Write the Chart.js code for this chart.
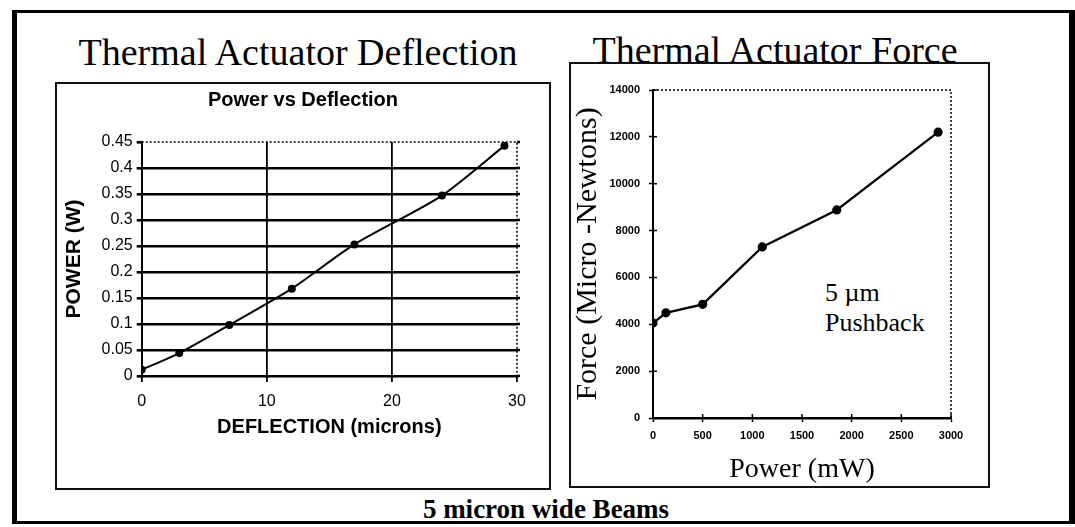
<!DOCTYPE html>
<html>
<head>
<meta charset="utf-8">
<script src="https://cdn.jsdelivr.net/npm/chart.js@4.4.1/dist/chart.umd.min.js"></script>
<style>
  html, body { margin: 0; padding: 0; background: #fff; }
  #page { position: relative; width: 1075px; height: 527px; overflow: hidden; background: #fff; }
  .frame { position: absolute; left: 12px; top: 10px; width: 1063px; height: 514px; box-sizing: border-box;
           border-style: solid; border-color: #000; border-width: 3px 6px 3px 5px; }
  .box { position: absolute; box-sizing: border-box; border: 2px solid #111; }
  .serif { position: absolute; white-space: nowrap; color: #000; font-family: "Liberation Serif", "Times New Roman", serif; }
  canvas { position: absolute; }
</style>
</head>
<body>
<div id="page">
  <div class="frame"></div>
  <div class="box" style="left:55px; top:82px; width:496px; height:408px;"></div>
  <div class="box" style="left:569px; top:62px; width:421px; height:426px;"></div>

  <div class="serif" style="left:298px; top:33px; font-size:38px; line-height:38px; transform:translateX(-50%);">Thermal Actuator Deflection</div>
  <div class="serif" style="left:775px; top:31px; font-size:38px; line-height:38px; transform:translateX(-50%);">Thermal Actuator Force</div>
  <div class="serif" style="left:825px; top:278px; font-size:26px; line-height:30px;">5 &micro;m<br>Pushback</div>
  <div class="serif" style="left:546px; top:496px; font-size:27px; line-height:27px; font-weight:bold; transform:translateX(-50%);">5 micron wide Beams</div>

  <canvas id="deflChart" width="496" height="408" style="left:55px; top:82px;"></canvas>
  <canvas id="forceChart" width="421" height="426" style="left:569px; top:62px;"></canvas>
</div>

<script>
// left chart: power vs deflection
const deflection = [0, 3, 7, 12, 17, 24, 29];
const powerW = [0.012, 0.044, 0.098, 0.168, 0.253, 0.347, 0.443];
const deflTicks = [0, 10, 20, 30];
const powerTicks = [0, 0.05, 0.1, 0.15, 0.2, 0.25, 0.3, 0.35, 0.4, 0.45];

// right chart: force vs power
const powerMW = [0, 130, 500, 1100, 1850, 2870];
const forceUN = [4050, 4490, 4850, 7300, 8880, 12200];
const mwTicks = [0, 500, 1000, 1500, 2000, 2500, 3000];
const forceTicks = [0, 2000, 4000, 6000, 8000, 10000, 12000, 14000];

const SANS = '"Liberation Sans", Arial, Helvetica, sans-serif';
const SERIF = '"Liberation Serif", "Times New Roman", serif';

function toPoints(xs, ys) {
    return xs.map((x, i) => ({x: x, y: ys[i]}));
}

function same(a, b) {
    return Math.abs(a - b) < 1e-9;
}

/**
 * Dotted top/right border of the plot area, plus the small tick stubs
 * on the inner side of the axes or past the right border.
 */
function plotFrame(opts) {
    return {
        id: 'plotFrame',
        beforeDatasetsDraw(chart) {
            const ctx = chart.ctx;
            const a = chart.chartArea;
            const xs = chart.scales.x;
            const ys = chart.scales.y;
            ctx.save();
            ctx.strokeStyle = '#000';
            ctx.lineWidth = 1.5;
            ctx.setLineDash([2, 2]);
            ctx.beginPath();
            ctx.moveTo(a.left, a.top);
            ctx.lineTo(a.right, a.top);
            ctx.lineTo(a.right, a.bottom);
            ctx.stroke();
            ctx.setLineDash([]);
            ctx.lineWidth = opts.stubWidth;
            ctx.beginPath();
            ys.ticks.forEach(t => {
                const py = ys.getPixelForValue(t.value);
                if (opts.rightStub) {
                    ctx.moveTo(a.right, py);
                    ctx.lineTo(a.right + opts.rightStub, py);
                }
                if (opts.innerStub) {
                    ctx.moveTo(a.left, py);
                    ctx.lineTo(a.left + opts.innerStub, py);
                }
            });
            if (opts.innerStub) {
                xs.ticks.forEach(t => {
                    const px = xs.getPixelForValue(t.value);
                    ctx.moveTo(px, a.bottom);
                    ctx.lineTo(px, a.bottom - opts.innerStub);
                });
            }
            ctx.stroke();
            ctx.restore();
        }
    };
}

Chart.defaults.animation = false;
Chart.defaults.color = '#000';

new Chart(document.getElementById('deflChart').getContext('2d'), {
    type: 'scatter',
    data: {
        datasets: [{
            data: toPoints(deflection, powerW),
            showLine: true,
            tension: 0.25,
            borderColor: '#000',
            borderWidth: 2,
            pointRadius: 3,
            pointBackgroundColor: '#000',
            pointBorderColor: '#000'
        }]
    },
    options: {
        responsive: false,
        layout: {padding: 0},
        plugins: {
            legend: {display: false},
            tooltip: {enabled: false},
            title: {
                display: true,
                text: 'Power vs Deflection',
                color: '#000',
                font: {family: SANS, size: 20, weight: 'bold'},
                padding: {top: 6, bottom: 30}
            }
        },
        scales: {
            x: {
                type: 'linear',
                min: 0,
                max: 30,
                afterBuildTicks: s => { s.ticks = deflTicks.map(v => ({value: v})); },
                afterFit: s => { s.height = 114; },
                grid: {
                    color: c => (c.tick && same(c.tick.value, 30)) ? 'rgba(0,0,0,0)' : '#000',
                    lineWidth: 1.8,
                    tickColor: '#000',
                    tickWidth: 1.8,
                    tickLength: 6
                },
                border: {color: '#000', width: 2},
                ticks: {color: '#000', font: {family: SANS, size: 16}, padding: 10, maxRotation: 0},
                title: {
                    display: true,
                    text: 'DEFLECTION (microns)',
                    color: '#000',
                    font: {family: SANS, size: 20, weight: 'bold'},
                    padding: {top: 0, bottom: 51}
                }
            },
            y: {
                type: 'linear',
                min: 0,
                max: 0.45,
                afterBuildTicks: s => { s.ticks = powerTicks.map(v => ({value: v})); },
                afterFit: s => { s.width = 86.7; },
                grid: {
                    color: c => (c.tick && same(c.tick.value, 0.45)) ? 'rgba(0,0,0,0)' : '#000',
                    lineWidth: 2.6,
                    tickColor: '#000',
                    tickWidth: 2.6,
                    tickLength: 5
                },
                border: {color: '#000', width: 2},
                ticks: {
                    color: '#000',
                    font: {family: SANS, size: 16},
                    padding: 4,
                    callback: v => String(+v.toFixed(2))
                },
                title: {
                    display: true,
                    text: 'POWER (W)',
                    color: '#000',
                    font: {family: SANS, size: 21, weight: 'bold'},
                    padding: {top: 6.4, bottom: 0}
                }
            },
            // empty right-hand strip so the title centres over the whole box
            side: {
                type: 'linear',
                position: 'right',
                afterFit: s => { s.width = 34; },
                grid: {display: false},
                border: {display: false},
                ticks: {display: false}
            }
        }
    },
    plugins: [plotFrame({rightStub: 3, innerStub: 0, stubWidth: 2.6})]
});

new Chart(document.getElementById('forceChart').getContext('2d'), {
    type: 'scatter',
    data: {
        datasets: [{
            data: toPoints(powerMW, forceUN),
            showLine: true,
            tension: 0,
            borderColor: '#000',
            borderWidth: 2.2,
            pointRadius: 3.5,
            pointBackgroundColor: '#000',
            pointBorderColor: '#000'
        }]
    },
    options: {
        responsive: false,
        layout: {padding: {left: 0, right: 39, top: 28, bottom: 0}},
        plugins: {
            legend: {display: false},
            tooltip: {enabled: false}
        },
        scales: {
            x: {
                type: 'linear',
                min: 0,
                max: 3000,
                afterBuildTicks: s => { s.ticks = mwTicks.map(v => ({value: v})); },
                afterFit: s => { s.height = 70; },
                grid: {drawOnChartArea: false, color: '#000', tickWidth: 1.5, tickLength: 4},
                border: {color: '#000', width: 2.5},
                ticks: {
                    color: '#000',
                    font: {family: SANS, size: 11, weight: 'bold'},
                    padding: 7,
                    maxRotation: 0,
                    callback: v => String(v)
                },
                title: {
                    display: true,
                    text: 'Power (mW)',
                    color: '#000',
                    font: {family: SERIF, size: 28},
                    padding: {top: 0, bottom: 1.2}
                }
            },
            y: {
                type: 'linear',
                min: 0,
                max: 14000,
                afterBuildTicks: s => { s.ticks = forceTicks.map(v => ({value: v})); },
                afterFit: s => { s.width = 84; },
                grid: {drawOnChartArea: false, color: '#000', tickWidth: 1.5, tickLength: 4},
                border: {color: '#000', width: 2},
                ticks: {
                    color: '#000',
                    font: {family: SANS, size: 11, weight: 'bold'},
                    padding: 9,
                    callback: v => String(v)
                },
                title: {
                    display: true,
                    text: 'Force (Micro -Newtons)',
                    color: '#000',
                    font: {family: SERIF, size: 30},
                    padding: {top: 1, bottom: 0}
                }
            }
        }
    },
    plugins: [plotFrame({rightStub: 0, innerStub: 4, stubWidth: 1.5})]
});
</script>
</body>
</html>
